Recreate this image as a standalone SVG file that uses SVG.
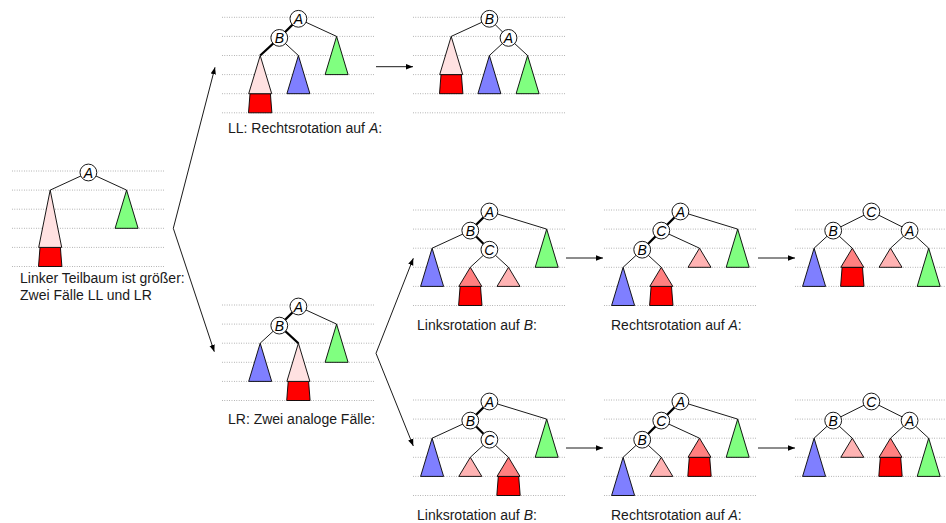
<svg xmlns="http://www.w3.org/2000/svg" xmlns:xlink="http://www.w3.org/1999/xlink" width="946" height="523" viewBox="0 0 946 523">
  <style>
    .grid line { stroke: #8c8c8c; stroke-width: 0.8; stroke-dasharray: 0.8 1.6; }
    .edges path { stroke: #000; stroke-width: 0.9; fill: none; }
    .edges path.thick { stroke-width: 2.2; }
    .sub use { stroke: #000; stroke-width: 0.9; stroke-linejoin: miter; }
    .pink { fill: #ffe1e1; }
    .salmon { fill: #ff8080; }
    .lpink { fill: #ffb3b3; }
    .blue { fill: #7f7fff; }
    .green { fill: #80ff80; }
    .red { fill: #ff0000; }
    .node circle { fill: #fff; stroke: #000; stroke-width: 0.9; }
    .node text { font-family: "Liberation Sans", Arial, sans-serif; font-style: italic; font-size: 14px; text-anchor: middle; fill: #000; }
    .label { font-family: "Liberation Sans", Arial, sans-serif; font-size: 14px; fill: #1a1a1a; }
    .label tspan.m { font-style: italic; }
    .arrows path { stroke: #000; stroke-width: 0.9; fill: none; marker-end: url(#head); }
  </style>
  <defs>
    <marker id="head" markerUnits="userSpaceOnUse" markerWidth="8" markerHeight="6" refX="7" refY="3" orient="auto">
      <path d="M0,0.3 L7,3 L0,5.7 Z" fill="#000"/>
    </marker>
    <!-- subtree shapes: one, two and three levels high -->
    <path id="t1" d="M0 0 L11.5 19.1 L-11.5 19.1 Z"/>
    <path id="t2" d="M0 0 L11.5 38.2 L-11.5 38.2 Z"/>
    <path id="t3" d="M0 0 L11.5 57.3 L-11.5 57.3 Z"/>
    <!-- extra level hanging below a subtree -->
    <path id="rd" d="M-10.2 0 L10.2 0 L11.7 19.1 L-11.7 19.1 Z"/>
    <g id="grid6" class="grid">
      <line x1="0" y1="0" x2="152.8" y2="0"/>
      <line x1="0" y1="19.1" x2="152.8" y2="19.1"/>
      <line x1="0" y1="38.2" x2="152.8" y2="38.2"/>
      <line x1="0" y1="57.3" x2="152.8" y2="57.3"/>
      <line x1="0" y1="76.4" x2="152.8" y2="76.4"/>
      <line x1="0" y1="95.5" x2="152.8" y2="95.5"/>
    </g>
    <g id="grid5" class="grid">
      <line x1="0" y1="0" x2="152.8" y2="0"/>
      <line x1="0" y1="19.1" x2="152.8" y2="19.1"/>
      <line x1="0" y1="38.2" x2="152.8" y2="38.2"/>
      <line x1="0" y1="57.3" x2="152.8" y2="57.3"/>
      <line x1="0" y1="76.4" x2="152.8" y2="76.4"/>
    </g>
  </defs>

  <!-- starting tree: left subtree too high -->
  <g id="start" transform="translate(12,171)">
    <use xlink:href="#grid6"/>
    <g class="edges">
      <path d="M76.4 1.5 L38.2 19.1"/>
      <path d="M76.4 1.5 L114.6 19.1"/>
    </g>
    <g class="sub">
      <use xlink:href="#rd" class="red" x="38.2" y="76.4"/>
      <use xlink:href="#t3" class="pink" x="38.2" y="19.1"/>
      <use xlink:href="#t2" class="green" x="114.6" y="19.1"/>
    </g>
    <g id="start-A" class="node" transform="translate(76.4,1.5)"><circle r="8.4"/><text y="5">A</text></g>
  </g>

  <!-- LL case -->
  <g id="ll" transform="translate(222,17.3)">
    <use xlink:href="#grid6"/>
    <g class="edges">
      <path class="thick" d="M76.4 1.5 L57.3 20.6"/>
      <path class="thick" d="M57.3 20.6 L38.2 38.2"/>
      <path d="M57.3 20.6 L76.4 38.2"/>
      <path d="M76.4 1.5 L114.6 19.1"/>
    </g>
    <g class="sub">
      <use xlink:href="#rd" class="red" x="38.2" y="76.4"/>
      <use xlink:href="#t2" class="pink" x="38.2" y="38.2"/>
      <use xlink:href="#t2" class="blue" x="76.4" y="38.2"/>
      <use xlink:href="#t2" class="green" x="114.6" y="19.1"/>
    </g>
    <g id="ll-A" class="node" transform="translate(76.4,1.5)"><circle r="8.4"/><text y="5">A</text></g>
    <g id="ll-B" class="node" transform="translate(57.3,20.6)"><circle r="8.4"/><text y="5">B</text></g>
  </g>

  <!-- LL after right rotation -->
  <g id="ll-done" transform="translate(413,17.3)">
    <use xlink:href="#grid6"/>
    <g class="edges">
      <path d="M76.4 1.5 L38.2 19.1"/>
      <path d="M76.4 1.5 L95.5 20.6"/>
      <path d="M95.5 20.6 L76.4 38.2"/>
      <path d="M95.5 20.6 L114.6 38.2"/>
    </g>
    <g class="sub">
      <use xlink:href="#rd" class="red" x="38.2" y="57.3"/>
      <use xlink:href="#t2" class="pink" x="38.2" y="19.1"/>
      <use xlink:href="#t2" class="blue" x="76.4" y="38.2"/>
      <use xlink:href="#t2" class="green" x="114.6" y="38.2"/>
    </g>
    <g id="ll-done-B" class="node" transform="translate(76.4,1.5)"><circle r="8.4"/><text y="5">B</text></g>
    <g id="ll-done-A" class="node" transform="translate(95.5,20.6)"><circle r="8.4"/><text y="5">A</text></g>
  </g>

  <!-- LR case -->
  <g id="lr" transform="translate(222,305)">
    <use xlink:href="#grid6"/>
    <g class="edges">
      <path class="thick" d="M76.4 1.5 L57.3 20.6"/>
      <path class="thick" d="M57.3 20.6 L76.4 38.2"/>
      <path d="M57.3 20.6 L38.2 38.2"/>
      <path d="M76.4 1.5 L114.6 19.1"/>
    </g>
    <g class="sub">
      <use xlink:href="#t2" class="blue" x="38.2" y="38.2"/>
      <use xlink:href="#rd" class="red" x="76.4" y="76.4"/>
      <use xlink:href="#t2" class="pink" x="76.4" y="38.2"/>
      <use xlink:href="#t2" class="green" x="114.6" y="19.1"/>
    </g>
    <g id="lr-A" class="node" transform="translate(76.4,1.5)"><circle r="8.4"/><text y="5">A</text></g>
    <g id="lr-B" class="node" transform="translate(57.3,20.6)"><circle r="8.4"/><text y="5">B</text></g>
  </g>

  <!-- LR, first variant: left rotation on B -->
  <g id="lr1-a" transform="translate(413,210)">
    <use xlink:href="#grid6"/>
    <g class="edges">
      <path class="thick" d="M76.4 1.5 L57.3 20.6"/>
      <path class="thick" d="M57.3 20.6 L76.4 39.7"/>
      <path d="M57.3 20.6 L19.1 38.2"/>
      <path d="M76.4 1.5 L133.7 19.1"/>
      <path d="M76.4 39.7 L57.3 57.3"/>
      <path d="M76.4 39.7 L95.5 57.3"/>
    </g>
    <g class="sub">
      <use xlink:href="#t2" class="blue" x="19.1" y="38.2"/>
      <use xlink:href="#t2" class="green" x="133.7" y="19.1"/>
      <use xlink:href="#rd" class="red" x="57.3" y="76.4"/>
      <use xlink:href="#t1" class="salmon" x="57.3" y="57.3"/>
      <use xlink:href="#t1" class="lpink" x="95.5" y="57.3"/>
    </g>
    <g id="lr1-a-A" class="node" transform="translate(76.4,1.5)"><circle r="8.4"/><text y="5">A</text></g>
    <g id="lr1-a-B" class="node" transform="translate(57.3,20.6)"><circle r="8.4"/><text y="5">B</text></g>
    <g id="lr1-a-C" class="node" transform="translate(76.4,39.7)"><circle r="8.4"/><text y="5">C</text></g>
  </g>

  <!-- LR, first variant: right rotation on A -->
  <g id="lr1-b" transform="translate(604,210)">
    <use xlink:href="#grid6"/>
    <g class="edges">
      <path class="thick" d="M76.4 1.5 L57.3 20.6"/>
      <path class="thick" d="M57.3 20.6 L38.2 39.7"/>
      <path d="M76.4 1.5 L133.7 19.1"/>
      <path d="M57.3 20.6 L95.5 38.2"/>
      <path d="M38.2 39.7 L19.1 57.3"/>
      <path d="M38.2 39.7 L57.3 57.3"/>
    </g>
    <g class="sub">
      <use xlink:href="#t2" class="green" x="133.7" y="19.1"/>
      <use xlink:href="#t1" class="lpink" x="95.5" y="38.2"/>
      <use xlink:href="#t2" class="blue" x="19.1" y="57.3"/>
      <use xlink:href="#rd" class="red" x="57.3" y="76.4"/>
      <use xlink:href="#t1" class="salmon" x="57.3" y="57.3"/>
    </g>
    <g id="lr1-b-A" class="node" transform="translate(76.4,1.5)"><circle r="8.4"/><text y="5">A</text></g>
    <g id="lr1-b-C" class="node" transform="translate(57.3,20.6)"><circle r="8.4"/><text y="5">C</text></g>
    <g id="lr1-b-B" class="node" transform="translate(38.2,39.7)"><circle r="8.4"/><text y="5">B</text></g>
  </g>

  <!-- LR, first variant: balanced -->
  <g id="lr1-c" transform="translate(795,210)">
    <use xlink:href="#grid5"/>
    <g class="edges">
      <path d="M76.4 1.5 L38.2 20.6"/>
      <path d="M76.4 1.5 L114.6 20.6"/>
      <path d="M38.2 20.6 L19.1 38.2"/>
      <path d="M38.2 20.6 L57.3 38.2"/>
      <path d="M114.6 20.6 L95.5 38.2"/>
      <path d="M114.6 20.6 L133.7 38.2"/>
    </g>
    <g class="sub">
      <use xlink:href="#t2" class="blue" x="19.1" y="38.2"/>
      <use xlink:href="#rd" class="red" x="57.3" y="57.3"/>
      <use xlink:href="#t1" class="salmon" x="57.3" y="38.2"/>
      <use xlink:href="#t1" class="lpink" x="95.5" y="38.2"/>
      <use xlink:href="#t2" class="green" x="133.7" y="38.2"/>
    </g>
    <g id="lr1-c-C" class="node" transform="translate(76.4,1.5)"><circle r="8.4"/><text y="5">C</text></g>
    <g id="lr1-c-B" class="node" transform="translate(38.2,20.6)"><circle r="8.4"/><text y="5">B</text></g>
    <g id="lr1-c-A" class="node" transform="translate(114.6,20.6)"><circle r="8.4"/><text y="5">A</text></g>
  </g>

  <!-- LR, second variant: left rotation on B -->
  <g id="lr2-a" transform="translate(413,400)">
    <use xlink:href="#grid6"/>
    <g class="edges">
      <path class="thick" d="M76.4 1.5 L57.3 20.6"/>
      <path class="thick" d="M57.3 20.6 L76.4 39.7"/>
      <path d="M57.3 20.6 L19.1 38.2"/>
      <path d="M76.4 1.5 L133.7 19.1"/>
      <path d="M76.4 39.7 L57.3 57.3"/>
      <path d="M76.4 39.7 L95.5 57.3"/>
    </g>
    <g class="sub">
      <use xlink:href="#t2" class="blue" x="19.1" y="38.2"/>
      <use xlink:href="#t2" class="green" x="133.7" y="19.1"/>
      <use xlink:href="#t1" class="lpink" x="57.3" y="57.3"/>
      <use xlink:href="#rd" class="red" x="95.5" y="76.4"/>
      <use xlink:href="#t1" class="salmon" x="95.5" y="57.3"/>
    </g>
    <g id="lr2-a-A" class="node" transform="translate(76.4,1.5)"><circle r="8.4"/><text y="5">A</text></g>
    <g id="lr2-a-B" class="node" transform="translate(57.3,20.6)"><circle r="8.4"/><text y="5">B</text></g>
    <g id="lr2-a-C" class="node" transform="translate(76.4,39.7)"><circle r="8.4"/><text y="5">C</text></g>
  </g>

  <!-- LR, second variant: right rotation on A -->
  <g id="lr2-b" transform="translate(604,400)">
    <use xlink:href="#grid6"/>
    <g class="edges">
      <path class="thick" d="M76.4 1.5 L57.3 20.6"/>
      <path class="thick" d="M57.3 20.6 L38.2 39.7"/>
      <path d="M76.4 1.5 L133.7 19.1"/>
      <path d="M57.3 20.6 L95.5 38.2"/>
      <path d="M38.2 39.7 L19.1 57.3"/>
      <path d="M38.2 39.7 L57.3 57.3"/>
    </g>
    <g class="sub">
      <use xlink:href="#t2" class="green" x="133.7" y="19.1"/>
      <use xlink:href="#rd" class="red" x="95.5" y="57.3"/>
      <use xlink:href="#t1" class="salmon" x="95.5" y="38.2"/>
      <use xlink:href="#t2" class="blue" x="19.1" y="57.3"/>
      <use xlink:href="#t1" class="lpink" x="57.3" y="57.3"/>
    </g>
    <g id="lr2-b-A" class="node" transform="translate(76.4,1.5)"><circle r="8.4"/><text y="5">A</text></g>
    <g id="lr2-b-C" class="node" transform="translate(57.3,20.6)"><circle r="8.4"/><text y="5">C</text></g>
    <g id="lr2-b-B" class="node" transform="translate(38.2,39.7)"><circle r="8.4"/><text y="5">B</text></g>
  </g>

  <!-- LR, second variant: balanced -->
  <g id="lr2-c" transform="translate(795,400)">
    <use xlink:href="#grid5"/>
    <g class="edges">
      <path d="M76.4 1.5 L38.2 20.6"/>
      <path d="M76.4 1.5 L114.6 20.6"/>
      <path d="M38.2 20.6 L19.1 38.2"/>
      <path d="M38.2 20.6 L57.3 38.2"/>
      <path d="M114.6 20.6 L95.5 38.2"/>
      <path d="M114.6 20.6 L133.7 38.2"/>
    </g>
    <g class="sub">
      <use xlink:href="#t2" class="blue" x="19.1" y="38.2"/>
      <use xlink:href="#t1" class="lpink" x="57.3" y="38.2"/>
      <use xlink:href="#rd" class="red" x="95.5" y="57.3"/>
      <use xlink:href="#t1" class="salmon" x="95.5" y="38.2"/>
      <use xlink:href="#t2" class="green" x="133.7" y="38.2"/>
    </g>
    <g id="lr2-c-C" class="node" transform="translate(76.4,1.5)"><circle r="8.4"/><text y="5">C</text></g>
    <g id="lr2-c-B" class="node" transform="translate(38.2,20.6)"><circle r="8.4"/><text y="5">B</text></g>
    <g id="lr2-c-A" class="node" transform="translate(114.6,20.6)"><circle r="8.4"/><text y="5">A</text></g>
  </g>

  <!-- transition arrows -->
  <g id="connectors" class="arrows">
    <path d="M173.3 228.3 L215 67.3"/>
    <path d="M173.3 228.3 L214.3 351.7"/>
    <path d="M376 353.3 L413.3 258.3"/>
    <path d="M376 353.3 L413.3 446"/>
    <path d="M376 66.7 L413 66.7"/>
    <path d="M566 258 L603 258"/>
    <path d="M758 258 L795 258"/>
    <path d="M566 448 L603 448"/>
    <path d="M758 448 L795 448"/>
  </g>

  <!-- captions -->
  <text class="label" x="20" y="283">Linker Teilbaum ist größer:</text>
  <text class="label" x="20" y="300">Zwei Fälle LL und LR</text>
  <text class="label" x="228" y="133">LL: Rechtsrotation auf <tspan class="m">A</tspan>:</text>
  <text class="label" x="228" y="424">LR: Zwei analoge Fälle:</text>
  <text class="label" x="417" y="330">Linksrotation auf <tspan class="m">B</tspan>:</text>
  <text class="label" x="611" y="330">Rechtsrotation auf <tspan class="m">A</tspan>:</text>
  <text class="label" x="417" y="520">Linksrotation auf <tspan class="m">B</tspan>:</text>
  <text class="label" x="611" y="520">Rechtsrotation auf <tspan class="m">A</tspan>:</text>
</svg>
